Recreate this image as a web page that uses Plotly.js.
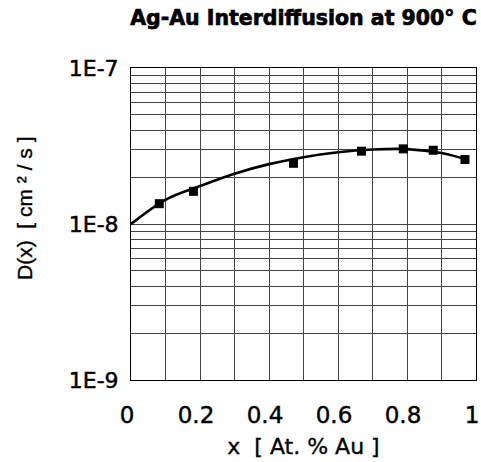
<!DOCTYPE html>
<html>
<head>
<meta charset="utf-8">
<script src="https://cdn.plot.ly/plotly-3.0.1.min.js"></script>
<style>
html,body{margin:0;padding:0;background:#fff;}
#chart{width:481px;height:462px;}
#chart .gtitle{stroke:#000;stroke-width:0.7px;}
#chart .xtick text,#chart .ytick text{stroke:#000;stroke-width:0.45px;}
#chart .xtitle,#chart .annotation-text{stroke:#000;stroke-width:0.35px;}
</style>
</head>
<body>
<div id="chart"></div>
<script>
// Measured data points (x = atomic fraction Au, D in cm^2/s)
const pointX = [0.082, 0.181, 0.471, 0.668, 0.789, 0.876, 0.968];
const pointD = [1.35e-8, 1.62e-8, 2.45e-8, 2.93e-8, 3.03e-8, 2.97e-8, 2.59e-8];

// Fitted curve
const curveX = [0, 0.1, 0.2, 0.3, 0.4, 0.5, 0.6, 0.7, 0.8, 0.9, 0.97];
const curveD = [1.0e-8, 1.43e-8, 1.75e-8, 2.1e-8, 2.42e-8, 2.68e-8, 2.88e-8, 3.0e-8, 3.02e-8, 2.85e-8, 2.6e-8];

// Tick labels
const yTickVals = [1e-9, 1e-8, 1e-7];
const yTickText = ['1E-9', '1E-8', '1E-7'];
const xTickVals = [0, 0.2, 0.4, 0.6, 0.8, 1];
const xTickText = ['0', '0.2', '0.4', '0.6', '0.8', '1'];

const titleText = 'Ag-Au Interdiffusion at 900° C';
const xTitle = 'x\u00a0\u00a0[ At. % Au ]';
const yTitle = 'D(x)\u00a0\u00a0[ cm ² / s ]';

const gridCol = '#444';

const traces = [
  {
    x: curveX, y: curveD, type: 'scatter', mode: 'lines',
    line: {color: '#000', width: 2.6, shape: 'spline', smoothing: 1},
    hoverinfo: 'skip', showlegend: false
  },
  {
    x: pointX, y: pointD, type: 'scatter', mode: 'markers',
    marker: {symbol: 'square', size: 9, color: '#000'},
    showlegend: false
  }
];

const layout = {
  width: 481, height: 462,
  margin: {l: 131, r: 5, t: 68, b: 82},
  paper_bgcolor: '#fff', plot_bgcolor: '#fff',
  showlegend: false,
  title: {
    text: '<b>' + titleText + '</b>',
    font: {family: 'DejaVu Sans', size: 20.5, color: '#000'},
    x: 0.5, xref: 'paper', xanchor: 'center',
    y: 1 - 18 / 462, yref: 'container', yanchor: 'middle'
  },
  xaxis: {
    range: [0, 1], tickvals: xTickVals, ticktext: xTickText,
    ticks: '', ticklabelstandoff: 14, ticklabelshift: -4,
    tickfont: {family: 'DejaVu Sans', size: 23, color: '#000'},
    showline: true, mirror: true, linecolor: '#000', linewidth: 1,
    showgrid: true, gridcolor: gridCol, gridwidth: 1,
    minor: {dtick: 0.1, tick0: 0, showgrid: true, gridcolor: gridCol, gridwidth: 1},
    zeroline: false, automargin: false,
    title: {text: xTitle, font: {family: 'DejaVu Sans', size: 22, color: '#000'}, standoff: 12}
  },
  yaxis: {
    type: 'log', range: [-9, -7], tickvals: yTickVals, ticktext: yTickText,
    ticks: '', ticklabelstandoff: 7,
    tickfont: {family: 'DejaVu Sans', size: 22, color: '#000'},
    showline: true, mirror: true, linecolor: '#000', linewidth: 1,
    showgrid: true, gridcolor: gridCol, gridwidth: 1,
    minor: {dtick: 'D1', showgrid: true, gridcolor: gridCol, gridwidth: 1},
    zeroline: false, automargin: false
  },
  annotations: [{
    text: yTitle, textangle: -90, showarrow: false,
    font: {family: 'Arial, "Liberation Sans", sans-serif', size: 21, color: '#000'},
    xref: 'paper', x: (24 - 131) / 345, xanchor: 'center',
    yref: 'paper', y: (380 - 208) / 312, yanchor: 'middle'
  }]
};

Plotly.newPlot('chart', traces, layout, {displayModeBar: false, staticPlot: true});
</script>
</body>
</html>
